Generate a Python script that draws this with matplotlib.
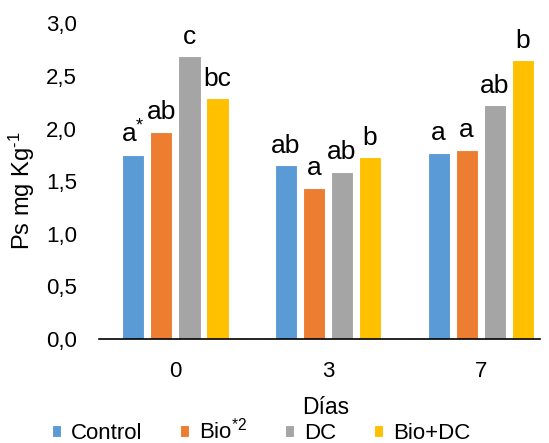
import matplotlib
matplotlib.use("Agg")
import matplotlib.pyplot as plt
import numpy as np

plt.rcParams['font.family'] = ['Liberation Sans', 'DejaVu Sans']
plt.rcParams['mathtext.fontset'] = 'custom'
plt.rcParams['mathtext.rm'] = 'Liberation Sans'
plt.rcParams['mathtext.it'] = 'Liberation Sans'
plt.rcParams['mathtext.default'] = 'regular'

categories = ['0', '3', '7']
series_names = ['Control', r'Bio$^{*2}$', 'DC', 'Bio+DC']
control = [1.75, 1.65, 1.77]
bio = [1.97, 1.44, 1.80]
dc = [2.69, 1.59, 2.22]
bio_dc = [2.29, 1.73, 2.65]
letters_control = [r'a$^{*}$', 'ab', 'a']
letters_bio = ['ab', 'a', 'a']
letters_dc = ['c', 'ab', 'ab']
letters_bio_dc = ['bc', 'b', 'b']
yticks = [0.0, 0.5, 1.0, 1.5, 2.0, 2.5, 3.0]
ytick_labels = ['0,0', '0,5', '1,0', '1,5', '2,0', '2,5', '3,0']

colors = ['#5B9BD5', '#ED7D31', '#A5A5A5', '#FFC000']
values = [control, bio, dc, bio_dc]
letters = [letters_control, letters_bio, letters_dc, letters_bio_dc]

fig = plt.figure(figsize=(5.49, 4.43), dpi=100)
ax = fig.add_axes([99/549, (443-339)/443, (540-99)/549, (339-23.4)/443])

x = np.arange(len(categories))
pitch = 0.1834
width = 0.146
for i, (vals, col, name, labs) in enumerate(zip(values, colors, series_names, letters)):
    pos = x + (i - 1.5) * pitch
    ax.bar(pos, vals, width=width, color=col, edgecolor='white', linewidth=0.8, label=name)
    for px, v, lab in zip(pos, vals, labs):
        ax.annotate(lab, (px, v), xytext=(0, 9), textcoords='offset points',
                    ha='center', va='baseline', fontsize=19, color='black')

ax.set_xlim(-0.5, 2.388)
ax.set_ylim(0, 3.0)
ax.set_xticks(x)
ax.set_xticklabels(categories, fontsize=16)
ax.set_yticks(yticks)
ax.set_yticklabels(ytick_labels, fontsize=16)
ax.tick_params(axis='both', length=0)
ax.tick_params(axis='x', pad=16)
ax.tick_params(axis='y', pad=16)
for s in ['top', 'right', 'left']:
    ax.spines[s].set_visible(False)
ax.spines['bottom'].set_color('black')
ax.spines['bottom'].set_linewidth(1.2)

ax.set_ylabel(r'Ps mg Kg$^{\text{-}1}$', fontsize=17)
ax.yaxis.set_label_coords(-0.14, (339-191)/315.6)
fig.text(326/549, 1 - 407/443, 'Días', ha='center', va='center', fontsize=16.5)

leg = fig.legend(loc='center', bbox_to_anchor=(261/549, 1 - 431/443), ncol=4,
                 frameon=False, fontsize=16, handlelength=0.4, handleheight=0.4,
                 handletextpad=0.45, columnspacing=1.7, borderaxespad=0, borderpad=0)

fig.savefig('out.png', dpi=100)
